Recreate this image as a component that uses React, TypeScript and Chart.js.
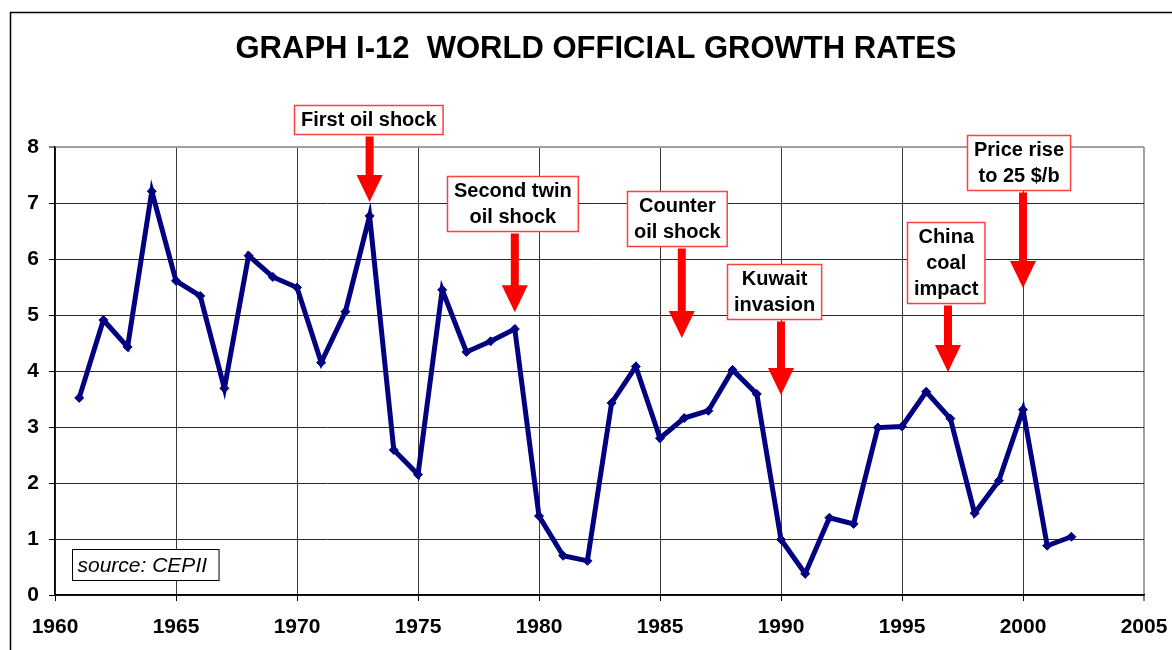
import React, { useEffect, useRef } from "react";
import { Chart, registerables } from "chart.js";

Chart.register(...registerables);

const TITLE = "GRAPH I-12  WORLD OFFICIAL GROWTH RATES";
const SOURCE = "source: CEPII";

const years = [
  1961, 1962, 1963, 1964, 1965, 1966, 1967, 1968, 1969, 1970,
  1971, 1972, 1973, 1974, 1975, 1976, 1977, 1978, 1979, 1980,
  1981, 1982, 1983, 1984, 1985, 1986, 1987, 1988, 1989, 1990,
  1991, 1992, 1993, 1994, 1995, 1996, 1997, 1998, 1999, 2000,
  2001, 2002,
];
const growth = [
  3.52, 4.91, 4.43, 7.21, 5.61, 5.34, 3.69, 6.06, 5.68, 5.49,
  4.15, 5.06, 6.77, 2.59, 2.15, 5.45, 4.34, 4.53, 4.75, 1.41,
  0.7, 0.61, 3.43, 4.08, 2.8, 3.16, 3.29, 4.02, 3.59, 0.99,
  0.38, 1.38, 1.27, 2.99, 3.01, 3.63, 3.15, 1.46, 2.04, 3.31,
  0.88, 1.04,
];

const xTicks = [1960, 1965, 1970, 1975, 1980, 1985, 1990, 1995, 2000, 2005];
const yTicks = [0, 1, 2, 3, 4, 5, 6, 7, 8];

const eventLabels = [
  ["First oil shock"],
  ["Second twin", "oil shock"],
  ["Counter", "oil shock"],
  ["Kuwait", "invasion"],
  ["China", "coal", "impact"],
  ["Price rise", "to 25 $/b"],
];
const eventYears = [1973, 1979, 1985.9, 1990, 1996.9, 2000];
const eventBoxCenters = [1972.95, 1978.9, 1985.7, 1989.7, 1996.8, 1999.8];
const eventBoxTops = [8.75, 7.48, 7.21, 5.91, 6.66, 8.21];
const eventArrowTips = [7.02, 5.05, 4.59, 3.57, 3.98, 5.48];

const FONT = '"Liberation Sans", Arial, Helvetica, sans-serif';

const decorPlugin = {
  id: "decor",
  beforeDraw(chart: any) {
    const ctx = chart.ctx;
    ctx.save();
    ctx.fillStyle = "#ffffff";
    ctx.fillRect(0, 0, chart.width, chart.height);
    ctx.strokeStyle = "#000000";
    ctx.lineWidth = 1.5;
    ctx.strokeRect(10.5, 12.5, chart.width + 20, chart.height + 20);
    ctx.restore();
  },
  afterDraw(chart: any) {
    const ctx = chart.ctx;
    const xs = chart.scales.x;
    const ys = chart.scales.y;
    const area = chart.chartArea;
    ctx.save();

    // title
    ctx.fillStyle = "#000000";
    ctx.font = `bold 31px ${FONT}`;
    ctx.textAlign = "center";
    ctx.textBaseline = "middle";
    ctx.fillText(TITLE, (area.left + area.right) / 2 - 3.5, 49);

    // source box
    ctx.font = `italic 21px ${FONT}`;
    const sw = ctx.measureText(SOURCE).width;
    const sl = Math.round(xs.getPixelForValue(1960.7)) + 0.5;
    const st = Math.round(ys.getPixelForValue(0.82)) + 0.5;
    ctx.fillStyle = "#ffffff";
    ctx.fillRect(sl, st, sw + 17, 31);
    ctx.strokeStyle = "#000000";
    ctx.lineWidth = 1;
    ctx.strokeRect(sl, st, sw + 17, 31);
    ctx.fillStyle = "#000000";
    ctx.textAlign = "left";
    ctx.textBaseline = "middle";
    ctx.fillText(SOURCE, sl + 5, st + 16.5);

    // event annotations
    ctx.font = `bold 20px ${FONT}`;
    eventLabels.forEach((lines, i) => {
      const cx = xs.getPixelForValue(eventBoxCenters[i]);
      const top = Math.round(ys.getPixelForValue(eventBoxTops[i])) + 0.5;
      const w = Math.max(...lines.map((l) => ctx.measureText(l).width)) + 13;
      const h = 26 * lines.length + 3;
      const left = Math.round(cx - w / 2) + 0.5;
      ctx.fillStyle = "#ffffff";
      ctx.fillRect(left, top, w, h);
      ctx.strokeStyle = "#ff4040";
      ctx.lineWidth = 1.5;
      ctx.strokeRect(left, top, w, h);
      ctx.fillStyle = "#000000";
      ctx.textAlign = "center";
      ctx.textBaseline = "middle";
      lines.forEach((l, j) => {
        ctx.fillText(l, left + w / 2, top + 15 + 26 * j);
      });

      // arrow
      const ax = xs.getPixelForValue(eventYears[i]);
      const tip = ys.getPixelForValue(eventArrowTips[i]);
      const start = top + h + 2;
      const headH = 27;
      ctx.fillStyle = "#ff0000";
      ctx.fillRect(ax - 4, start, 8, tip - headH - start + 1);
      ctx.beginPath();
      ctx.moveTo(ax - 13, tip - headH);
      ctx.lineTo(ax + 13, tip - headH);
      ctx.lineTo(ax, tip);
      ctx.closePath();
      ctx.fill();
    });

    ctx.restore();
  },
};

export default function App() {
  const canvasRef = useRef<HTMLCanvasElement | null>(null);

  useEffect(() => {
    const canvas = canvasRef.current;
    if (!canvas) return;
    const points = years.map((y, i) => ({ x: y, y: growth[i] }));

    const chart = new Chart(canvas, {
      type: "line",
      data: {
        datasets: [
          {
            data: points,
            borderColor: "#000080",
            backgroundColor: "#000080",
            borderWidth: 5,
            pointStyle: "rectRot",
            pointRadius: 4.5,
            pointBorderWidth: 1,
            pointBorderColor: "#000080",
            pointBackgroundColor: "#000080",
            tension: 0,
            fill: false,
          },
        ],
      },
      options: {
        animation: false,
        responsive: false,
        maintainAspectRatio: false,
        devicePixelRatio: 1,
        layout: { padding: { top: 147, right: 28, left: 0, bottom: 0 } },
        plugins: {
          legend: { display: false },
          title: { display: false },
          tooltip: { enabled: false },
        },
        scales: {
          x: {
            type: "linear",
            min: 1960,
            max: 2005,
            afterBuildTicks: (scale: any) => {
              scale.ticks = xTicks.map((v) => ({ value: v }));
            },
            afterFit: (scale: any) => {
              scale.height = 55;
              scale.paddingLeft = 0;
              scale.paddingRight = 0;
            },
            ticks: {
              color: "#000000",
              font: { family: FONT, size: 21, weight: "bold" },
              padding: 14,
              maxRotation: 0,
              autoSkip: false,
              callback: (v: any) => String(v),
            },
            grid: {
              color: (c: any) =>
                c.tick && c.tick.value === 2005 ? "#a0a0a0" : "#3a3a3a",
              lineWidth: (c: any) => (c.tick && c.tick.value === 2005 ? 2 : 1),
              tickColor: "#000000",
              tickLength: 6,
              tickWidth: 1,
              drawTicks: true,
            },
            border: { display: true, color: "#000000", width: 1.5 },
          },
          y: {
            type: "linear",
            min: 0,
            max: 8,
            afterBuildTicks: (scale: any) => {
              scale.ticks = yTicks.map((v) => ({ value: v }));
            },
            afterFit: (scale: any) => {
              scale.width = 55;
              scale.paddingTop = 0;
              scale.paddingBottom = 0;
            },
            ticks: {
              color: "#000000",
              font: { family: FONT, size: 21, weight: "bold" },
              padding: 10,
              autoSkip: false,
              callback: (v: any) => String(v),
            },
            grid: {
              color: (c: any) =>
                c.tick && c.tick.value === 8 ? "#a0a0a0" : "#2a2a2a",
              lineWidth: (c: any) => (c.tick && c.tick.value === 8 ? 2 : 1),
              tickColor: "#000000",
              tickLength: 6,
              tickWidth: 1,
              drawTicks: true,
            },
            border: { display: true, color: "#000000", width: 1.5 },
          },
        },
      },
      plugins: [decorPlugin],
    } as any);

    return () => {
      chart.destroy();
    };
  }, []);

  return (
    <div
      style={{
        position: "absolute",
        left: 0,
        top: 0,
        width: 1172,
        height: 650,
        background: "#ffffff",
      }}
    >
      <canvas ref={canvasRef} width={1172} height={650} style={{ display: "block" }} />
    </div>
  );
}
